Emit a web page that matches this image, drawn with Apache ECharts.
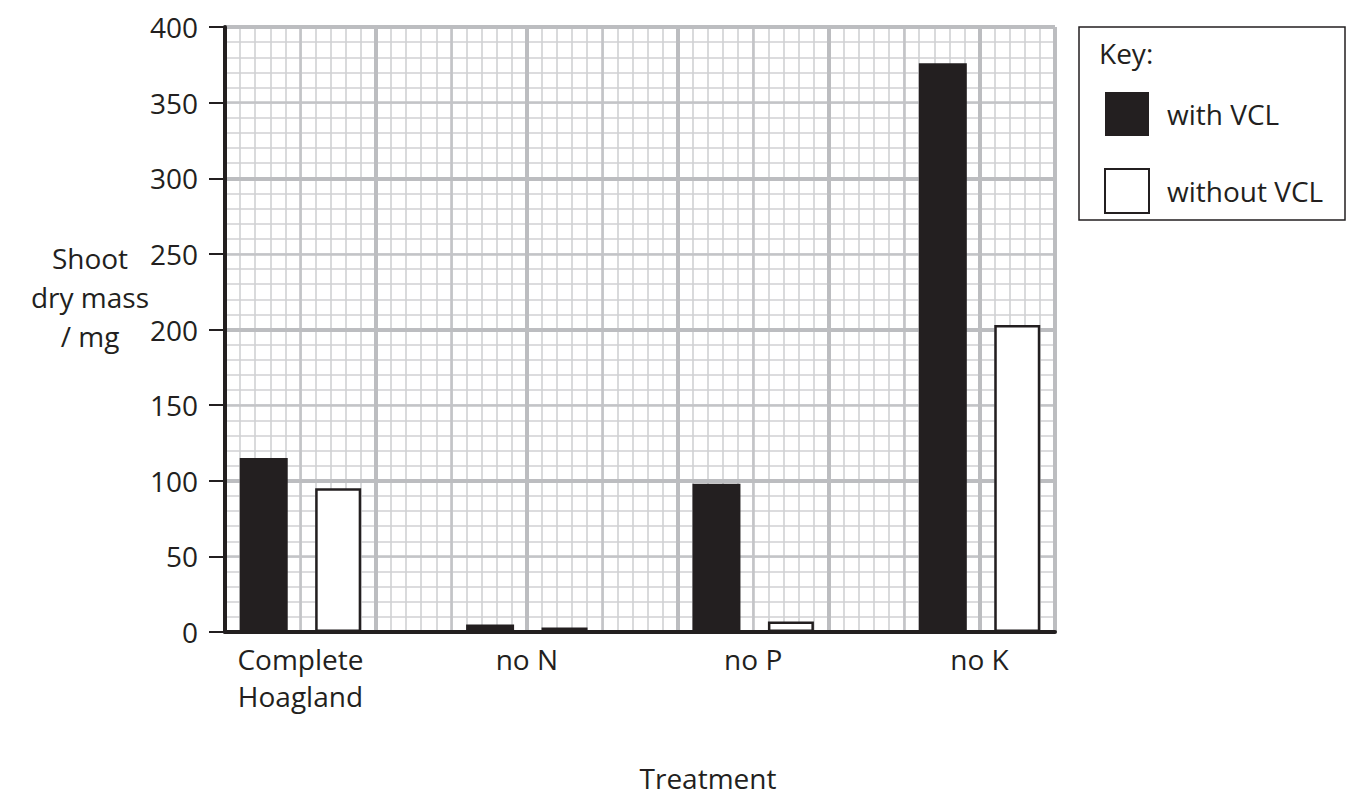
<!DOCTYPE html>
<html>
<head>
<meta charset="utf-8">
<script src="https://cdn.jsdelivr.net/npm/echarts@6/dist/echarts.min.js"></script>
<style>
html,body{margin:0;padding:0;background:#fff;}
#chart{width:1351px;height:798px;}
</style>
</head>
<body>
<div id="chart"></div>
<script>
// ---- data ----
const categories = ['Complete\nHoagland', 'no N', 'no P', 'no K'];
const withVCL = [115, 5, 98, 376];
const withoutVCL = [95, 3, 7, 203];
const seriesNames = ['with VCL', 'without VCL'];
const yTicks = [0, 50, 100, 150, 200, 250, 300, 350, 400];

// ---- layout helpers (grid in 55 cells horizontally) ----
const groupCenter = i => 5 + 15 * i;
const blackData = withVCL.map((v, i) => [groupCenter(i) - 2.5, v]);
const whiteData = withoutVCL.map((v, i) => [groupCenter(i) + 2.5, v]);

const FONT = 'Open Sans';
const TXT = '#231f20';
const FS = 28;

function gridXAxis(interval, color, width, z) {
  return {
    type: 'value', min: 0, max: 55, interval: interval, z: z,
    axisLine: {show: false}, axisTick: {show: false}, axisLabel: {show: false},
    splitLine: {show: true, lineStyle: {color: color, width: width}}
  };
}
function gridYAxis(interval, color, width, z) {
  return {
    type: 'value', min: 0, max: 400, interval: interval, z: z,
    axisLine: {show: false}, axisTick: {show: false}, axisLabel: {show: false},
    splitLine: {show: true, lineStyle: {color: color, width: width}}
  };
}

const chart = echarts.init(document.getElementById('chart'), null, {renderer: 'svg'});
chart.setOption({
  animation: false,
  backgroundColor: '#fff',
  textStyle: {fontFamily: FONT},
  grid: {left: 225, right: 296, top: 27, bottom: 166, containLabel: false},
  xAxis: [
    {
      type: 'value', min: 0, max: 55, interval: 5, z: 5,
      axisLine: {show: true, lineStyle: {color: TXT, width: 4}},
      axisTick: {show: false},
      splitLine: {show: false},
      axisLabel: {
        show: true, margin: 8, color: TXT, fontSize: FS, fontFamily: FONT,
        lineHeight: 37, align: 'center', verticalAlign: 'top',
        showMinLabel: true, showMaxLabel: true,
        formatter: function (v) {
          const i = (v - 5) / 15;
          return (Number.isInteger(i) && i >= 0 && i < categories.length) ? categories[i] : '';
        }
      }
    },
    gridXAxis(1, '#d0d1d3', 1.6, 0),
    gridXAxis(5, '#c3c4c7', 2.6, 0.5),
    gridXAxis(10, '#bcbdc0', 4, 1)
  ],
  yAxis: [
    {
      type: 'value', min: 0, max: 400, interval: 50, z: 5,
      axisLine: {show: true, lineStyle: {color: TXT, width: 4}},
      axisTick: {show: true, length: 16, lineStyle: {color: TXT, width: 2}},
      splitLine: {show: false},
      axisLabel: {show: true, margin: 27, color: TXT, fontSize: FS, fontFamily: FONT,
        formatter: v => (yTicks.indexOf(v) >= 0 ? String(v) : '')}
    },
    gridYAxis(10, '#d0d1d3', 1.6, 0),
    gridYAxis(50, '#c3c4c7', 2.6, 0.5),
    gridYAxis(100, '#bcbdc0', 4, 1)
  ],
  legend: {
    show: true, orient: 'vertical', left: 1099, top: 87,
    itemWidth: 44, itemHeight: 44, itemGap: 32,
    icon: 'rect',
    textStyle: {fontSize: FS, color: TXT, fontFamily: FONT, padding: [0, 0, 0, 13]},
    data: seriesNames
  },
  series: [
    {
      name: seriesNames[0], type: 'bar', xAxisIndex: 0, yAxisIndex: 0,
      barWidth: 48, barGap: '-100%', z: 3,
      itemStyle: {color: TXT, borderColor: TXT, borderWidth: 0},
      data: blackData
    },
    {
      name: seriesNames[1], type: 'bar', xAxisIndex: 0, yAxisIndex: 0,
      barWidth: 46, barGap: '-100%', z: 3,
      itemStyle: {color: '#ffffff', borderColor: TXT, borderWidth: 2.5},
      data: whiteData
    }
  ],
  graphic: [
    {
      type: 'rect', z: 10,
      shape: {x: 1079, y: 27, width: 266, height: 193},
      style: {fill: 'none', stroke: TXT, lineWidth: 1.5}
    },
    {
      type: 'text', z: 11, x: 1099, y: 53,
      style: {text: 'Key:', fontSize: FS, fill: TXT, fontFamily: FONT, verticalAlign: 'middle'}
    },
    {
      type: 'text', z: 11, x: 90, y: 297,
      style: {text: 'Shoot\ndry mass\n/ mg', fontSize: FS, lineHeight: 39, fill: TXT,
        fontFamily: FONT, align: 'center', verticalAlign: 'middle'}
    },
    {
      type: 'text', z: 11, x: 708, y: 778,
      style: {text: 'Treatment', fontSize: FS, fill: TXT, fontFamily: FONT,
        align: 'center', verticalAlign: 'middle'}
    }
  ]
});
</script>
</body>
</html>
